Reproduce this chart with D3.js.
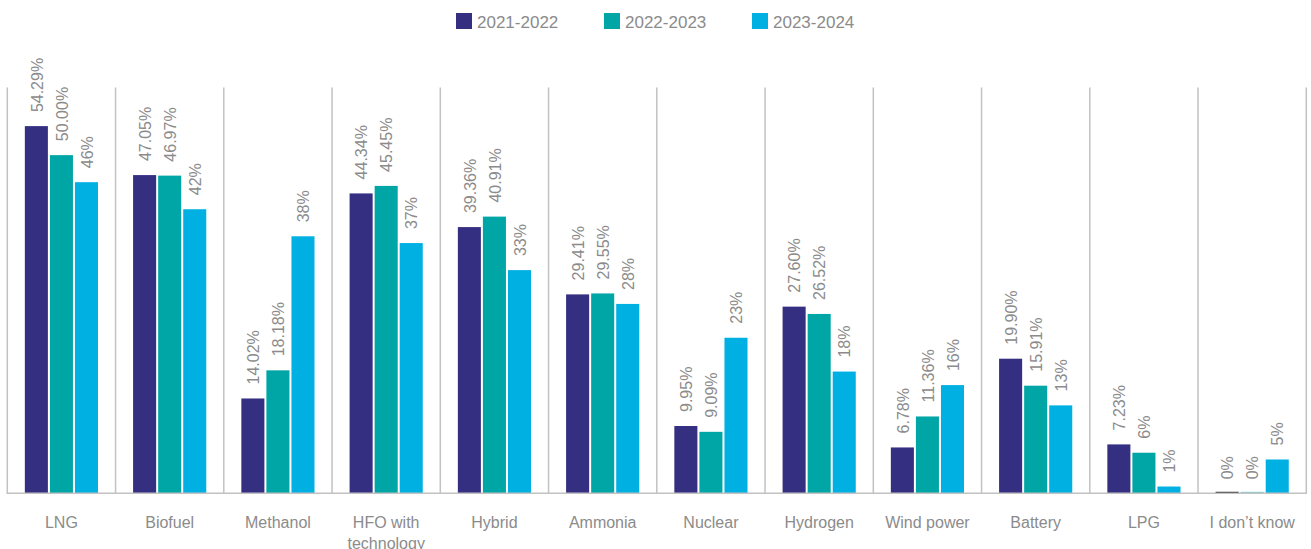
<!DOCTYPE html>
<html>
<head>
<meta charset="utf-8">
<script src="https://cdn.jsdelivr.net/npm/d3@7"></script>
<style>
  html, body { margin: 0; padding: 0; background: #ffffff; }
  svg { display: block; font-family: "Liberation Sans", Arial, Helvetica, sans-serif; }
</style>
</head>
<body>
<svg id="chart" width="1311" height="549"></svg>
<script>
// Fuel options and survey share per period (values kept as printed, e.g. "50.00")
const categories = ["LNG", "Biofuel", "Methanol", "HFO with technology", "Hybrid", "Ammonia",
  "Nuclear", "Hydrogen", "Wind power", "Battery", "LPG", "I don\u2019t know"];
const seriesNames = ["2021-2022", "2022-2023", "2023-2024"];
const values2021 = ["54.29", "47.05", "14.02", "44.34", "39.36", "29.41", "9.95", "27.60", "6.78", "19.90", "7.23", "0"];
const values2022 = ["50.00", "46.97", "18.18", "45.45", "40.91", "29.55", "9.09", "26.52", "11.36", "15.91", "6", "0"];
const values2023 = ["46", "42", "38", "37", "33", "28", "23", "18", "16", "13", "1", "5"];
const colors = ["#352f81", "#00a6a6", "#00b0e3"];
const zeroColors = ["#111111", "#7fcfcf", "#7fd6f0"];

const seriesValues = [values2021, values2022, values2023];

const svg = d3.select("#chart");
const baseY = 493.3;
const topY = 87.5;

const x = d3.scaleBand().domain(categories).range([7.3, 1306.3]).paddingInner(0).paddingOuter(0);
const xs = d3.scaleBand().domain(seriesNames).range([0, x.bandwidth()])
  .paddingInner(0.08).paddingOuter(0.7);
const y = d3.scaleLinear().domain([0, 60]).range([baseY, topY]);

const textGray = "#8b8b8b";
const gridGray = "#c2c2c2";

// Vertical separators between categories
const edges = categories.map(c => x(c)).concat([x.range()[1]]);
svg.append("g").selectAll("line").data(edges).join("line")
  .attr("x1", d => d).attr("x2", d => d)
  .attr("y1", y(60)).attr("y2", baseY)
  .attr("stroke", gridGray).attr("stroke-width", 1.5);

// Bars
const groups = svg.append("g").selectAll("g").data(categories).join("g")
  .attr("transform", c => `translate(${x(c)},0)`);

groups.each(function(cat, ci) {
  const g = d3.select(this);
  seriesNames.forEach((s, si) => {
    const raw = seriesValues[si][ci];
    const v = +raw;
    const bx = xs(s);
    const bw = xs.bandwidth();
    if (v > 0) {
      g.append("rect")
        .attr("x", bx).attr("width", bw)
        .attr("y", y(v)).attr("height", baseY - y(v))
        .attr("fill", colors[si]);
    } else {
      g.append("rect")
        .attr("x", bx).attr("width", bw)
        .attr("y", baseY - 1.5).attr("height", 1.5)
        .attr("fill", zeroColors[si]);
    }
    g.append("text")
      .attr("transform", `translate(${bx + bw / 2 + 0.5},${y(v) - 14}) rotate(-90)`)
      .attr("dy", "0.36em")
      .attr("text-anchor", "start")
      .attr("font-size", 16)
      .attr("fill", textGray)
      .text(raw + "%");
  });
});

// Baseline
svg.append("line")
  .attr("x1", x.range()[0] - 0.75).attr("x2", x.range()[1] + 0.75)
  .attr("y1", baseY).attr("y2", baseY)
  .attr("stroke", gridGray).attr("stroke-width", 1.5);

// Category labels (wrapped to the band width)
const xAxis = d3.axisBottom(x).tickSize(0).tickPadding(0);
const axisG = svg.append("g").attr("transform", `translate(0,${baseY})`).call(xAxis);
axisG.select(".domain").remove();
axisG.selectAll("text")
  .attr("font-size", 16)
  .attr("font-family", "Liberation Sans, Arial, sans-serif")
  .attr("fill", textGray)
  .attr("y", 0).attr("dy", 0)
  .each(function(d) {
    const t = d3.select(this);
    const words = d.split(" ");
    t.text(null);
    const maxW = x.bandwidth() - 10;
    let line = [];
    let lineNo = 0;
    let tspan = t.append("tspan").attr("x", 0).attr("y", 35);
    words.forEach(w => {
      line.push(w);
      tspan.text(line.join(" "));
      if (tspan.node().getComputedTextLength() > maxW && line.length > 1) {
        line.pop();
        tspan.text(line.join(" "));
        line = [w];
        lineNo++;
        tspan = t.append("tspan").attr("x", 0).attr("y", 35 + lineNo * 21).text(w);
      }
    });
  });

// Legend
const legend = svg.append("g");
const legendX = d3.scalePoint().domain(seriesNames).range([456, 752]);
seriesNames.forEach((s, i) => {
  const lg = legend.append("g").attr("transform", `translate(${legendX(s)},13)`);
  lg.append("rect").attr("width", 16).attr("height", 16).attr("fill", colors[i]);
  lg.append("text").attr("x", 21).attr("y", 14.5)
    .attr("font-size", 17).attr("fill", textGray).text(s);
});
</script>
</body>
</html>
